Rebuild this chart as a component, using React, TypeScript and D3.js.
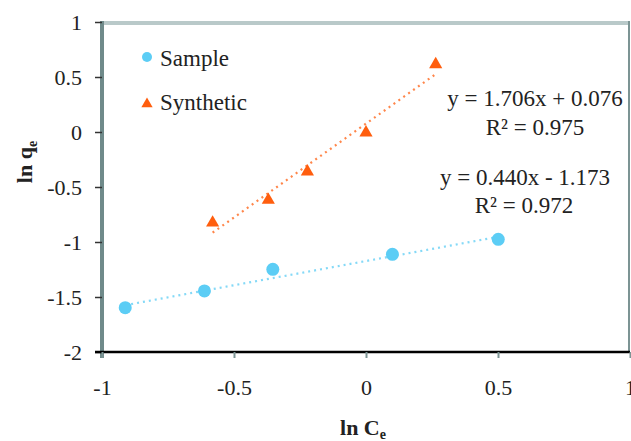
import React, { useEffect, useRef } from 'react';
import * as d3 from 'd3';

// Sample series (ln Ce, ln qe)
const sampleX = [-0.912, -0.612, -0.353, 0.1, 0.501];
const sampleY = [-1.597, -1.445, -1.248, -1.112, -0.976];
// Synthetic series
const synthX = [-0.581, -0.37, -0.222, 0.0, 0.264];
const synthY = [-0.825, -0.618, -0.361, -0.006, 0.615];

const xTicks = [-1, -0.5, 0, 0.5, 1];
const yTicks = [1, 0.5, 0, -0.5, -1, -1.5, -2];

const sampleFit = { slope: 0.44, intercept: -1.173, label: 'y = 0.440x - 1.173', r2: 'R² = 0.972' };
const synthFit = { slope: 1.706, intercept: 0.076, label: 'y = 1.706x + 0.076', r2: 'R² = 0.975' };

const W = 631;
const H = 441;
const BLUE = '#5ccdf5';
const ORANGE = '#ff5e0e';
const FONT = "'Liberation Serif', 'DejaVu Serif', serif";

const App = () => {
    const ref = useRef<SVGSVGElement>(null);

    useEffect(() => {
        const svg = d3.select(ref.current);
        svg.selectAll('*').remove();

        const x = d3.scaleLinear().domain([-1, 1]).range([102, 630]);
        const y = d3.scaleLinear().domain([-2, 1]).range([352, 22]);

        // frame: top and right borders
        svg.append('line')
            .attr('x1', x(-1)).attr('x2', x(1) - 1)
            .attr('y1', y(1) + 1).attr('y2', y(1) + 1)
            .attr('stroke', '#b9c9c9').attr('stroke-width', 4);
        svg.append('line')
            .attr('x1', x(1) - 1).attr('x2', x(1) - 1)
            .attr('y1', y(1) - 1).attr('y2', y(-2))
            .attr('stroke', '#7c9494').attr('stroke-width', 2);

        // y axis
        const yAxis = svg.append('g').attr('transform', `translate(${x(-1)},0)`)
            .call(d3.axisLeft(y).tickValues(yTicks).tickSize(7).tickFormat(d => String(d)));
        yAxis.attr('font-family', FONT).attr('font-size', 22);
        yAxis.select('.domain').attr('stroke', '#6f8a8a').attr('stroke-width', 4)
            .attr('d', `M0,${y(1) - 1}V${y(-2) + 6}`);
        yAxis.selectAll('.tick line').attr('stroke', '#333').attr('stroke-width', 1.5);
        yAxis.selectAll('.tick text')
            .attr('x', -20).attr('dy', '0.32em').attr('fill', '#222');

        // x axis
        const xAxis = svg.append('g').attr('transform', `translate(0,${y(-2)})`)
            .call(d3.axisBottom(x).tickValues(xTicks).tickSize(6).tickFormat(d => String(d)));
        xAxis.attr('font-family', FONT).attr('font-size', 22);
        xAxis.select('.domain').attr('stroke', '#000').attr('stroke-width', 2.5)
            .attr('d', `M${x(-1) - 7},0H${x(1)}`);
        xAxis.selectAll('.tick line').attr('stroke', '#7c9494').attr('stroke-width', 2);
        xAxis.selectAll('.tick text').attr('y', 27).attr('fill', '#222');

        // trend lines
        const fitLine = (fit: typeof sampleFit, xs: number[], color: string) => {
            const x0 = d3.min(xs) as number;
            const x1 = d3.max(xs) as number;
            svg.append('line')
                .attr('x1', x(x0)).attr('y1', y(fit.slope * x0 + fit.intercept))
                .attr('x2', x(x1)).attr('y2', y(fit.slope * x1 + fit.intercept))
                .attr('stroke', color).attr('stroke-width', 2.2)
                .attr('stroke-dasharray', '2 4').attr('opacity', 0.75);
        };
        fitLine(sampleFit, sampleX, BLUE);
        fitLine(synthFit, synthX, ORANGE);

        // points
        svg.selectAll('.sample')
            .data(sampleX.map((v, i) => [v, sampleY[i]]))
            .enter().append('circle')
            .attr('cx', d => x(d[0])).attr('cy', d => y(d[1]))
            .attr('r', 6.5).attr('fill', BLUE);

        const tri = d3.symbol().type(d3.symbolTriangle).size(75);
        svg.selectAll('.synth')
            .data(synthX.map((v, i) => [v, synthY[i]]))
            .enter().append('path')
            .attr('d', tri)
            .attr('transform', d => `translate(${x(d[0])},${y(d[1])})`)
            .attr('fill', ORANGE);

        // legend
        svg.append('circle').attr('cx', 147).attr('cy', 57).attr('r', 5).attr('fill', BLUE);
        svg.append('path').attr('d', d3.symbol().type(d3.symbolTriangle).size(55))
            .attr('transform', 'translate(147,104)').attr('fill', ORANGE);
        const txt = (tx: number, ty: number, s: string, anchor = 'start') =>
            svg.append('text').attr('x', tx).attr('y', ty).attr('text-anchor', anchor).text(s)
                .attr('font-family', FONT).attr('font-size', 23).attr('fill', '#222');
        txt(160, 66, 'Sample');
        txt(160, 110, 'Synthetic');

        // equations
        txt(535, 106, synthFit.label, 'middle');
        txt(535, 135, synthFit.r2, 'middle');
        txt(525, 185, sampleFit.label, 'middle');
        txt(524, 213, sampleFit.r2, 'middle');

        // axis titles
        svg.append('text')
            .attr('transform', 'translate(32,162) rotate(-90)')
            .attr('text-anchor', 'middle')
            .attr('font-family', FONT).attr('font-size', 22).attr('font-weight', 'bold')
            .attr('fill', '#222')
            .call(t => {
                t.append('tspan').text('ln q');
                t.append('tspan').attr('font-size', 14).attr('dy', 5).text('e');
            });
        svg.append('text')
            .attr('x', 363).attr('y', 435)
            .attr('text-anchor', 'middle')
            .attr('font-family', FONT).attr('font-size', 22).attr('font-weight', 'bold')
            .attr('fill', '#222')
            .call(t => {
                t.append('tspan').text('ln C');
                t.append('tspan').attr('font-size', 14).attr('dy', 4).text('e');
            });
    }, []);

    return (
        <div>
            <style>{'body{margin:0}'}</style>
            <svg ref={ref} width={W} height={H} style={{ display: 'block', background: '#fff' }} />
        </div>
    );
};

export default App;
